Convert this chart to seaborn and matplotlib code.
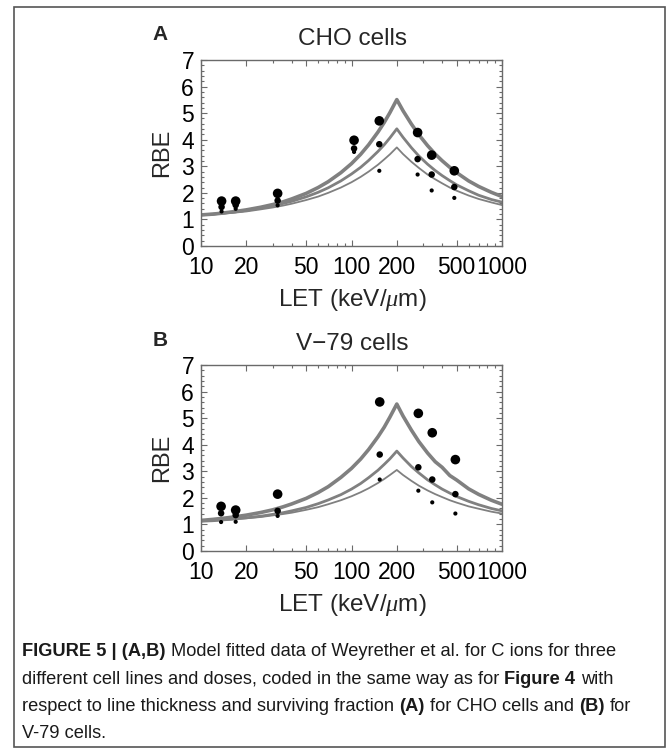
import matplotlib
matplotlib.use("Agg")
import matplotlib.pyplot as plt
from matplotlib.ticker import MultipleLocator, FixedLocator, LogLocator, NullFormatter
from matplotlib.patches import Rectangle
import seaborn as sns

# ---------------- data ----------------
let_curve = [10, 12, 14, 17, 20, 25, 30, 35, 40, 50, 60, 70, 85, 100, 115, 130, 150, 165, 180, 200,
             220, 250, 280, 320, 360, 400, 450, 500, 600, 700, 850, 1000]

cho_thick = [1.17, 1.20, 1.24, 1.30, 1.36, 1.46, 1.56, 1.66, 1.77, 1.98, 2.20, 2.42, 2.76, 3.10, 3.45, 3.81, 4.29, 4.65, 5.02, 5.51,
             5.09, 4.59, 4.19, 3.78, 3.46, 3.21, 2.96, 2.76, 2.45, 2.24, 2.02, 1.86]
cho_mid   = [1.17, 1.20, 1.24, 1.29, 1.34, 1.43, 1.51, 1.60, 1.68, 1.85, 2.02, 2.19, 2.45, 2.71, 2.96, 3.22, 3.56, 3.81, 4.07, 4.41,
             4.09, 3.70, 3.39, 3.08, 2.84, 2.65, 2.46, 2.30, 2.08, 1.91, 1.75, 1.65]
cho_thin  = [1.16, 1.19, 1.22, 1.26, 1.30, 1.38, 1.45, 1.52, 1.59, 1.73, 1.86, 2.00, 2.20, 2.40, 2.60, 2.80, 3.06, 3.26, 3.45, 3.71,
             3.46, 3.17, 2.94, 2.69, 2.51, 2.36, 2.20, 2.08, 1.90, 1.77, 1.64, 1.54]

v79_thick = [1.15, 1.19, 1.23, 1.29, 1.35, 1.45, 1.55, 1.66, 1.77, 1.98, 2.20, 2.42, 2.77, 3.11, 3.46, 3.82, 4.30, 4.66, 5.04, 5.53,
             5.08, 4.55, 4.12, 3.69, 3.36, 3.15, 2.84, 2.67, 2.34, 2.13, 1.91, 1.76]
v79_mid   = [1.12, 1.14, 1.17, 1.21, 1.25, 1.31, 1.38, 1.44, 1.51, 1.64, 1.78, 1.92, 2.12, 2.33, 2.54, 2.76, 3.04, 3.26, 3.47, 3.76,
             3.50, 3.18, 2.94, 2.68, 2.49, 2.33, 2.18, 2.05, 1.87, 1.74, 1.60, 1.51]
v79_thin  = [1.12, 1.14, 1.16, 1.20, 1.23, 1.28, 1.34, 1.39, 1.44, 1.55, 1.65, 1.76, 1.91, 2.06, 2.21, 2.36, 2.56, 2.71, 2.86, 3.05,
             2.86, 2.64, 2.46, 2.28, 2.14, 2.03, 1.91, 1.82, 1.68, 1.59, 1.48, 1.41]

cho_let   = [13.7, 17.0, 32.3, 104, 153, 275, 341, 482]
cho_big   = [1.69, 1.69, 1.98, 3.98, 4.71, 4.27, 3.42, 2.83]
cho_med   = [1.47, 1.54, 1.71, 3.67, 3.83, 3.27, 2.69, 2.22]
cho_small = [1.30, 1.40, 1.53, 3.54, 2.83, 2.69, 2.09, 1.81]

v79_let   = [13.6, 17.0, 32.3, 154, 278, 344, 490]
v79_big   = [1.68, 1.54, 2.14, 5.61, 5.18, 4.45, 3.44]
v79_med   = [1.42, 1.35, 1.51, 3.63, 3.15, 2.69, 2.14]
v79_small = [1.09, 1.10, 1.32, 2.69, 2.27, 1.83, 1.41]

x_ticks = [10, 20, 50, 100, 200, 500, 1000]
x_tick_labels = ["10", "20", "50", "100", "200", "500", "1000"]
y_ticks = [0, 1, 2, 3, 4, 5, 6, 7]

titles = ["CHO cells", "V\u221279 cells"]
letters = ["A", "B"]
y_label = "RBE"
x_label = r"LET $(\mathrm{keV}/\mu\mathrm{m})$"

caption_lines = [
    [("FIGURE 5 | (A,B)", True), ("Model fitted data of Weyrether et al. for C ions for three", False)],
    [("different cell lines and doses, coded in the same way as for", False), ("Figure 4", True), ("with", False)],
    [("respect to line thickness and surviving fraction", False), ("(A)", True), ("for CHO cells and", False), ("(B)", True), ("for", False)],
    [("V-79 cells.", False)],
]

# ---------------- style ----------------
sns.set_theme(style="ticks")
FONT = ["Liberation Sans", "DejaVu Sans"]
plt.rcParams["font.family"] = FONT
plt.rcParams["mathtext.fontset"] = "custom"
plt.rcParams["mathtext.rm"] = "Liberation Sans"
plt.rcParams["mathtext.it"] = "Liberation Serif:italic"
plt.rcParams["mathtext.bf"] = "Liberation Sans:bold"

W, H = 669, 748
fig = plt.figure(figsize=(W / 100, H / 100), dpi=100)
fig.patch.set_facecolor("white")

LINE_C = "#808080"
SPINE_C = "#6a6a6a"

panels = [
    dict(top=60, curves=(cho_thick, cho_mid, cho_thin), let=cho_let, pts=(cho_big, cho_med, cho_small)),
    dict(top=365, curves=(v79_thick, v79_mid, v79_thin), let=v79_let, pts=(v79_big, v79_med, v79_small)),
]

TICK_FS = 16.5
for i, p in enumerate(panels):
    top = p["top"]
    ax = fig.add_axes([201 / W, 1 - (top + 186) / H, 301 / W, 186 / H])
    ax.set_xscale("log")
    for yv, lw in zip(p["curves"], (2.6, 2.0, 1.3)):
        sns.lineplot(x=let_curve, y=yv, ax=ax, color=LINE_C, lw=lw, estimator=None, sort=False)
    for yv, s in zip(p["pts"], (48, 22, 9)):
        sns.scatterplot(x=p["let"], y=yv, ax=ax, s=s, color="black", edgecolor="none", linewidth=0, zorder=5)
    ax.set_xlim(10, 1000)
    ax.set_ylim(0, 7)
    ax.xaxis.set_major_locator(FixedLocator(x_ticks))
    ax.set_xticklabels(x_tick_labels)
    ax.xaxis.set_minor_locator(LogLocator(base=10, subs=range(2, 10)))
    ax.xaxis.set_minor_formatter(NullFormatter())
    ax.set_yticks(y_ticks)
    ax.yaxis.set_minor_locator(MultipleLocator(0.2))
    ax.tick_params(which="both", direction="in", top=True, right=True, color=SPINE_C, width=0.8)
    ax.tick_params(which="major", length=4.5, labelsize=TICK_FS, labelcolor="black")
    ax.tick_params(which="minor", length=2.2)
    ax.tick_params(axis="y", which="major", pad=5)
    ax.tick_params(axis="x", which="major", pad=7.5)
    for sp in ax.spines.values():
        sp.set_visible(True)
        sp.set_color(SPINE_C)
        sp.set_linewidth(1.0)
    ax.set_xlabel("")
    ax.set_ylabel("")
    ax.legend_ = None
    for lab in ax.get_xticklabels() + ax.get_yticklabels():
        lab.set_family(FONT)

    fig.text(352 / W, 1 - (top - 21) / H, titles[i], ha="center", va="center", fontsize=17.5)
    fig.text(160 / W, 1 - (top - 25) / H, letters[i], ha="center", va="center", fontsize=15, fontweight="bold")
    fig.text(162 / W, 1 - (top + 93) / H, y_label, ha="center", va="center", rotation=90, fontsize=17)
    fig.text(352 / W, 1 - (top + 240) / H, x_label, ha="center", va="center", fontsize=17.5)

# outer frame
fig.patches.append(Rectangle((14 / W, 1 / H), 651 / W, 740 / H, transform=fig.transFigure,
                             fill=False, edgecolor="#555555", linewidth=1.2))

# ---------------- caption with bold runs ----------------
renderer = fig.canvas.get_renderer()

def run_width(txt, size, bold):
    t = fig.text(0, 0, txt, fontsize=size, fontweight="bold" if bold else "normal")
    w = t.get_window_extent(renderer).width
    t.remove()
    return w

def space_width(size):
    return run_width("x x", size, False) - run_width("xx", size, False)

def line_width(runs, size):
    tot = sum(run_width(t, size, b) for t, b in runs)
    return tot + space_width(size) * (len(runs) - 1)

base = 12.0
target = 593.0
cap_fs = base * target / line_width(caption_lines[0], base)

x0 = 22
baselines = [656, 684, 711, 738]
sp = space_width(cap_fs)
for runs, yb in zip(caption_lines, baselines):
    x = x0
    for j, (txt, bold) in enumerate(runs):
        t = fig.text(x / W, 1 - yb / H, txt, fontsize=cap_fs, fontweight="bold" if bold else "normal",
                     ha="left", va="baseline", color="#1a1a1a")
        x = t.get_window_extent(renderer).x1 + sp

fig.savefig("out.png", dpi=100, facecolor="white")
